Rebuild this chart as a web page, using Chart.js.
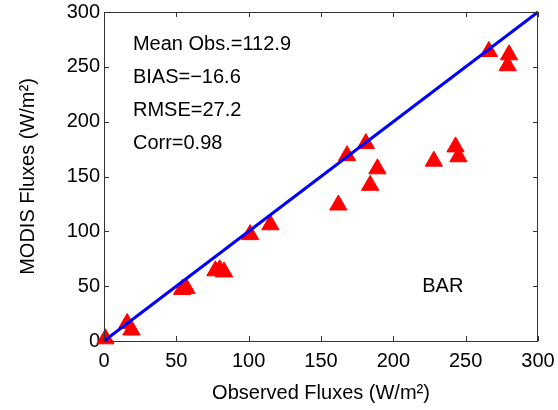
<!DOCTYPE html>
<html>
<head>
<meta charset="utf-8">
<script src="https://cdn.jsdelivr.net/npm/chart.js@4.4.1/dist/chart.umd.min.js"></script>
<style>
  body { margin: 0; background: #fff; }
  #wrap { width: 558px; height: 410px; }
</style>
</head>
<body>
<div id="wrap"><canvas id="myChart"></canvas></div>
<script>
// observed vs MODIS fluxes (W/m2)
var obsFlux   = [1, 16, 19, 54, 57, 77, 80, 83, 101, 115, 162, 168, 181, 189, 184, 228, 243, 245, 266, 280, 279]
var modisFlux = [2, 16, 10, 47, 48, 64, 65, 63,  97, 106, 124, 169, 180, 157, 142, 164, 177, 168, 264, 261, 251]

// 1:1 line end points
var lineX = [0, 300]
var lineY = [0, 300]

var tickValues = [0, 50, 100, 150, 200, 250, 300]

// stats text in the upper left, site name lower right
var statLabels = ['Mean Obs.=112.9', 'BIAS=\u221216.6', 'RMSE=27.2', 'Corr=0.98']
var statX = 20
var statY = [270, 240, 210, 180]
var siteLabel = 'BAR'
var siteX = 220
var siteY = 50

var FONT = '"Liberation Sans", Arial, sans-serif'
Chart.defaults.font.family = FONT
Chart.defaults.font.size = 20
Chart.defaults.color = '#000'

// draws the box, inward tick marks and the text notes
var boxPlugin = {
  id: 'box',
  afterDatasetsDraw: function(chart) {
    var ctx = chart.ctx
    var a = chart.chartArea
    var xs = chart.scales.x
    var ys = chart.scales.y
    ctx.save()
    ctx.strokeStyle = '#333'
    ctx.lineWidth = 1
    ctx.strokeRect(a.left + 0.5, a.top + 0.5, a.right - a.left - 1, a.bottom - a.top)
    ctx.beginPath()
    tickValues.forEach(function(v) {
      var px = Math.round(xs.getPixelForValue(v)) + 0.5
      var py = Math.round(ys.getPixelForValue(v)) + 0.5
      ctx.moveTo(px, a.bottom); ctx.lineTo(px, a.bottom - 5)
      ctx.moveTo(px, a.top); ctx.lineTo(px, a.top + 5)
      ctx.moveTo(a.left, py); ctx.lineTo(a.left + 5, py)
      ctx.moveTo(a.right, py); ctx.lineTo(a.right - 5, py)
    })
    ctx.stroke()

    ctx.fillStyle = '#000'
    ctx.font = '20px ' + FONT
    ctx.textAlign = 'left'
    ctx.textBaseline = 'middle'
    for (var i = 0; i < statLabels.length; i++) {
      ctx.fillText(statLabels[i], xs.getPixelForValue(statX), ys.getPixelForValue(statY[i]))
    }
    ctx.fillText(siteLabel, xs.getPixelForValue(siteX), ys.getPixelForValue(siteY))
    ctx.restore()
  }
}

var points = obsFlux.map(function(x, i) { return {x: x, y: modisFlux[i]} })
var linePts = lineX.map(function(x, i) { return {x: x, y: lineY[i]} })

var ctx = document.getElementById('myChart').getContext('2d')
var chart = new Chart(ctx, {
  type: 'scatter',
  data: {
    datasets: [{
      type: 'line',
      data: linePts,
      borderColor: '#0000ff',
      borderWidth: 3,
      pointRadius: 0,
      fill: false,
      order: 0,
      clip: false
    }, {
      data: points,
      pointStyle: 'triangle',
      pointRadius: 10,
      pointBackgroundColor: '#ff0000',
      pointBorderColor: '#ff0000',
      pointBorderWidth: 1,
      order: 1,
      clip: false
    }]
  },
  options: {
    responsive: true,
    maintainAspectRatio: false,
    animation: false,
    layout: { padding: { top: 12, right: 20, left: 0, bottom: 0 } },
    plugins: { legend: { display: false }, tooltip: { enabled: false } },
    scales: {
      x: {
        type: 'linear',
        min: 0, max: 300,
        grid: { display: false, drawTicks: false },
        border: { display: false },
        ticks: { stepSize: 50, padding: 8, maxRotation: 0 },
        title: { display: true, text: 'Observed Fluxes (W/m\u00b2)', padding: { top: 0, bottom: 5 } },
        afterFit: function(scale) {
          scale.height = 69
          scale.paddingLeft = 0
          scale.paddingRight = 0
        }
      },
      y: {
        type: 'linear',
        min: 0, max: 300,
        grid: { display: false, drawTicks: false },
        border: { display: false },
        ticks: { stepSize: 50, padding: 4 },
        title: { display: true, text: 'MODIS Fluxes (W/m\u00b2)', padding: { top: 16, bottom: 0 } },
        afterFit: function(scale) {
          scale.width = 104
          scale.paddingTop = 0
          scale.paddingBottom = 0
        }
      }
    }
  },
  plugins: [boxPlugin]
})
</script>
</body>
</html>
